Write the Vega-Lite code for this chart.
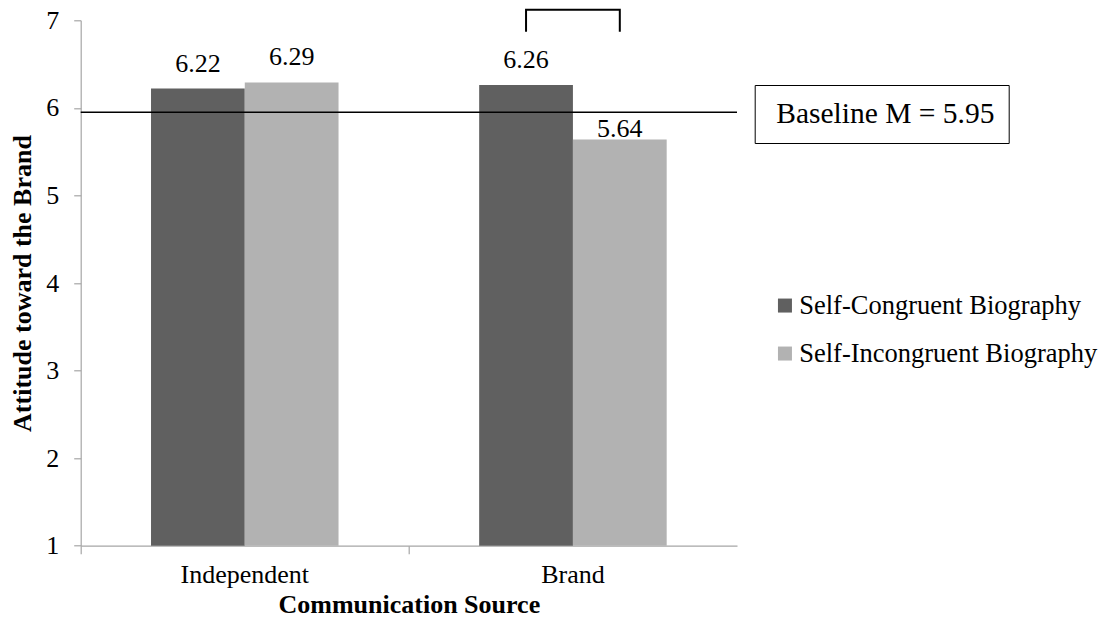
{
  "$schema": "https://vega.github.io/schema/vega-lite/v6.json",
  "width": 656.3,
  "height": 525.4,
  "autosize": {"type": "none"},
  "padding": {"left": 80.7, "top": 20.3, "right": 367, "bottom": 84.3},
  "config": {
    "view": {"stroke": null},
    "font": "Liberation Serif",
    "axis": {
      "domainColor": "#a6a6a6",
      "tickColor": "#a6a6a6",
      "domainWidth": 1.2,
      "tickWidth": 1.2,
      "grid": false,
      "labelFont": "Liberation Serif",
      "labelColor": "#000000",
      "labelFontSize": 26,
      "titleFont": "Liberation Serif",
      "titleColor": "#000000",
      "titleFontSize": 26,
      "titleFontWeight": "bold"
    },
    "legend": {
      "labelFont": "Liberation Serif",
      "labelColor": "#000000"
    }
  },
  "datasets": {
    "scores": [
      {"source": "Independent", "condition": "Self-Congruent Biography", "attitude": 6.22},
      {"source": "Independent", "condition": "Self-Incongruent Biography", "attitude": 6.29},
      {"source": "Brand", "condition": "Self-Congruent Biography", "attitude": 6.26},
      {"source": "Brand", "condition": "Self-Incongruent Biography", "attitude": 5.64}
    ],
    "baseline": [{"label": "Baseline M = 5.95", "value": 5.95}],
    "bracket": [
      {"source": "Brand", "condition": "Self-Congruent Biography", "y": 6.87, "step": 1},
      {"source": "Brand", "condition": "Self-Congruent Biography", "y": 7.12, "step": 2},
      {"source": "Brand", "condition": "Self-Incongruent Biography", "y": 7.12, "step": 3},
      {"source": "Brand", "condition": "Self-Incongruent Biography", "y": 6.87, "step": 4}
    ]
  },
  "layer": [
    {
      "data": {"name": "scores"},
      "mark": {"type": "bar"},
      "encoding": {
        "x": {
          "field": "source", "type": "nominal",
          "sort": ["Independent", "Brand"],
          "scale": {"paddingInner": 0, "paddingOuter": 0},
          "axis": {
            "title": "Communication Source",
            "labelAngle": 0,
            "bandPosition": 0,
            "tickSize": 8,
            "labelPadding": 8,
            "titlePadding": 4
          }
        },
        "xOffset": {
          "field": "condition", "type": "nominal",
          "sort": ["Self-Congruent Biography", "Self-Incongruent Biography"],
          "scale": {"paddingInner": 0, "paddingOuter": 0.75}
        },
        "y": {
          "field": "attitude", "type": "quantitative",
          "scale": {"domain": [1, 7], "nice": false, "zero": false},
          "axis": {
            "title": "Attitude toward the Brand",
            "values": [1, 2, 3, 4, 5, 6, 7],
            "format": "d",
            "tickSize": 7,
            "labelPadding": 15,
            "titlePadding": 10
          }
        },
        "y2": {"datum": 1},
        "color": {
          "field": "condition", "type": "nominal",
          "sort": ["Self-Congruent Biography", "Self-Incongruent Biography"],
          "scale": {"range": ["#606060", "#b2b2b2"]},
          "legend": {
            "title": null,
            "orient": "none",
            "legendX": 691,
            "legendY": 272,
            "symbolType": "square",
            "symbolSize": 196,
            "symbolStrokeWidth": 0,
            "symbolOpacity": 1,
            "labelFontSize": 26.5,
            "labelOffset": 1,
            "rowPadding": 21,
            "labelLimit": 400,
            "padding": 0
          }
        }
      }
    },
    {
      "data": {"name": "scores"},
      "transform": [{"filter": "datum.attitude >= 5.95"}],
      "mark": {"type": "text", "fontSize": 26, "baseline": "alphabetic", "dy": -17, "color": "#000000", "font": "Liberation Serif"},
      "encoding": {
        "x": {"field": "source", "type": "nominal", "sort": ["Independent", "Brand"]},
        "xOffset": {"field": "condition", "type": "nominal", "sort": ["Self-Congruent Biography", "Self-Incongruent Biography"]},
        "y": {"field": "attitude", "type": "quantitative"},
        "text": {"field": "attitude", "type": "quantitative", "format": ".2f"}
      }
    },
    {
      "data": {"name": "scores"},
      "transform": [{"filter": "datum.attitude < 5.95"}],
      "mark": {"type": "text", "fontSize": 26, "baseline": "alphabetic", "dy": -2, "color": "#000000", "font": "Liberation Serif"},
      "encoding": {
        "x": {"field": "source", "type": "nominal", "sort": ["Independent", "Brand"]},
        "xOffset": {"field": "condition", "type": "nominal", "sort": ["Self-Congruent Biography", "Self-Incongruent Biography"]},
        "y": {"field": "attitude", "type": "quantitative"},
        "text": {"field": "attitude", "type": "quantitative", "format": ".2f"}
      }
    },
    {
      "data": {"name": "baseline"},
      "mark": {"type": "rule", "color": "#000000", "strokeWidth": 1.3},
      "encoding": {
        "y": {"field": "value", "type": "quantitative"},
        "strokeDash": {
          "field": "label", "type": "nominal",
          "scale": {"range": [[1, 0]]},
          "legend": {
            "title": null,
            "orient": "none",
            "legendX": 674,
            "legendY": 64.7,
            "symbolSize": 0,
            "symbolStrokeWidth": 0,
            "symbolOpacity": 0,
            "labelOffset": -22,
            "labelFontSize": 29.5,
            "labelLimit": 400,
            "padding": 14,
            "strokeColor": "#000000",
            "fillColor": "#ffffff"
          }
        }
      }
    },
    {
      "data": {"name": "bracket"},
      "mark": {"type": "line", "color": "#000000", "strokeWidth": 2, "clip": false, "interpolate": "linear"},
      "encoding": {
        "x": {"field": "source", "type": "nominal", "sort": ["Independent", "Brand"]},
        "xOffset": {"field": "condition", "type": "nominal", "sort": ["Self-Congruent Biography", "Self-Incongruent Biography"]},
        "y": {"field": "y", "type": "quantitative"},
        "order": {"field": "step", "type": "quantitative"}
      }
    }
  ]
}
